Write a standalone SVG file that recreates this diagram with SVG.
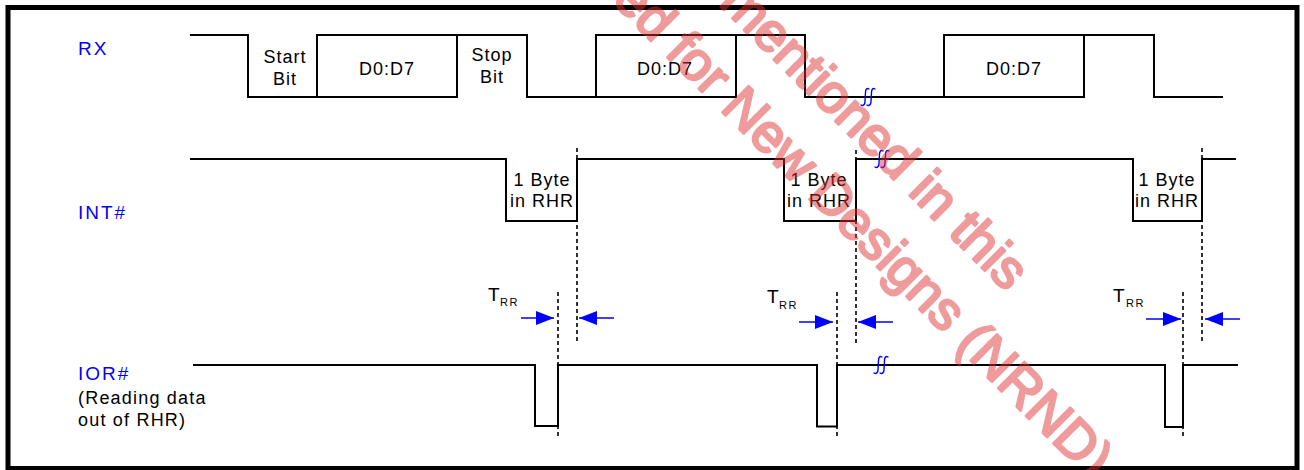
<svg xmlns="http://www.w3.org/2000/svg" width="1304" height="470" viewBox="0 0 1304 470">
  <style>
    .wave { fill: none; stroke: #000; stroke-width: 2; stroke-linejoin: miter; }
    .dash { fill: none; stroke: #000; stroke-width: 1.6; stroke-dasharray: 4 3; }
    .txt { font-family: "Liberation Sans", Arial, sans-serif; font-size: 18px; letter-spacing: 1px; fill: #000; }
    .mid { text-anchor: middle; }
    .lbl { font-family: "Liberation Sans", Arial, sans-serif; font-size: 19px; letter-spacing: 2px; fill: #0000ff; }
    .sub { font-family: "Liberation Sans", Arial, sans-serif; font-size: 11px; letter-spacing: 1.5px; fill: #000; }
    .arr { stroke: #0000ff; stroke-width: 1.5; fill: none; marker-end: url(#ah); }
    .brk { fill: none; stroke: #0000ff; stroke-width: 1.4; stroke-linecap: round; }
    .wm { font-family: "Liberation Sans", Arial, sans-serif; font-size: 54px; fill: #e03030; stroke: #e03030; stroke-width: 2.6; stroke-linejoin: round; }
  </style>
  <defs>
    <marker id="ah" markerUnits="userSpaceOnUse" markerWidth="18" markerHeight="14" refX="18" refY="7" orient="auto">
      <path d="M0,0 L18,7 L0,14 Z" fill="#0000ff"/>
    </marker>
    <path id="brkSym" class="brk" d="M1,-8 C-1.5,-9.5 -2.5,-7 -2.5,-4.5 L-3,4.5 C-3,7 -4.5,9.5 -7,8 M7,-8 C4.5,-9.5 3.5,-7 3.5,-4.5 L3,4.5 C3,7 1.5,9.5 -1,8"/>
  </defs>

  <rect id="frame" x="8" y="7.5" width="1289" height="461" fill="#fff" stroke="#000" stroke-width="5"/>

  <g id="labels">
    <text class="lbl" x="78" y="55">RX</text>
    <text class="lbl" x="78" y="219">INT#</text>
    <text class="lbl" x="78" y="380">IOR#</text>
    <text class="txt" x="78" y="404" style="letter-spacing:1.2px">(Reading data</text>
    <text class="txt" x="78" y="426" style="letter-spacing:1.2px">out of RHR)</text>
  </g>

  <g id="rx">
    <path class="wave" d="M190,35 H248 V97 H317 V35 H527 V97 H596 V35 H805 V97 H944 V35 H1154 V97 H1223"/>
    <path class="wave" d="M317,97 H457 V35 M596,97 H736 V35 M944,97 H1084 V35"/>
    <text class="txt mid" x="285" y="63">Start</text>
    <text class="txt mid" x="285" y="85">Bit</text>
    <text class="txt mid" x="387" y="75">D0:D7</text>
    <text class="txt mid" x="492" y="61">Stop</text>
    <text class="txt mid" x="492" y="83">Bit</text>
    <text class="txt mid" x="665" y="75">D0:D7</text>
    <text class="txt mid" x="1014" y="75">D0:D7</text>
    <use href="#brkSym" x="868" y="97"/>
  </g>

  <g id="int">
    <path class="wave" d="M190,159 H506 V221 H577 V159 H784 V221 H856 V159 H1133 V221 H1202 V159 H1236"/>
    <text class="txt mid" x="542" y="186">1 Byte</text>
    <text class="txt mid" x="542" y="207">in RHR</text>
    <text class="txt mid" x="819" y="186">1 Byte</text>
    <text class="txt mid" x="819" y="207">in RHR</text>
    <text class="txt mid" x="1167" y="186">1 Byte</text>
    <text class="txt mid" x="1167" y="207">in RHR</text>
    <use href="#brkSym" x="882" y="159"/>
  </g>

  <g id="ior">
    <path class="wave" d="M193,365 H535 V426 H558 V365 H817 V426.5 H837 V365 H1165 V427 H1183 V365 H1238"/>
    <use href="#brkSym" x="881" y="365"/>
  </g>

  <g id="connectors">
    <line class="dash" x1="577" y1="148" x2="577" y2="344"/>
    <line class="dash" x1="856" y1="150" x2="856" y2="343"/>
    <line class="dash" x1="1202" y1="148" x2="1202" y2="344"/>
    <line class="dash" x1="558" y1="292" x2="558" y2="436"/>
    <line class="dash" x1="837" y1="292" x2="837" y2="436"/>
    <line class="dash" x1="1183" y1="292" x2="1183" y2="436"/>
    <line class="arr" x1="521" y1="318" x2="554" y2="318"/>
    <line class="arr" x1="614" y1="318" x2="579" y2="318"/>
    <line class="arr" x1="799" y1="322" x2="833" y2="322"/>
    <line class="arr" x1="893" y1="322" x2="858" y2="322"/>
    <line class="arr" x1="1146" y1="319" x2="1181" y2="319"/>
    <line class="arr" x1="1240" y1="319" x2="1205" y2="319"/>
  </g>

  <g id="trr">
    <text class="txt" x="488" y="301" style="font-size:19px">T</text>
    <text class="sub" x="500" y="306">RR</text>
    <text class="txt" x="767" y="303" style="font-size:19px">T</text>
    <text class="sub" x="779" y="309">RR</text>
    <text class="txt" x="1113" y="302" style="font-size:19px">T</text>
    <text class="sub" x="1126" y="307">RR</text>
  </g>

  <g id="watermark" opacity="0.48">
    <text class="wm" transform="translate(718,4) rotate(45)">mentioned in this</text>
    <text class="wm" transform="translate(611,1) rotate(45)">ed for New Designs (NRND)</text>
  </g>
</svg>
